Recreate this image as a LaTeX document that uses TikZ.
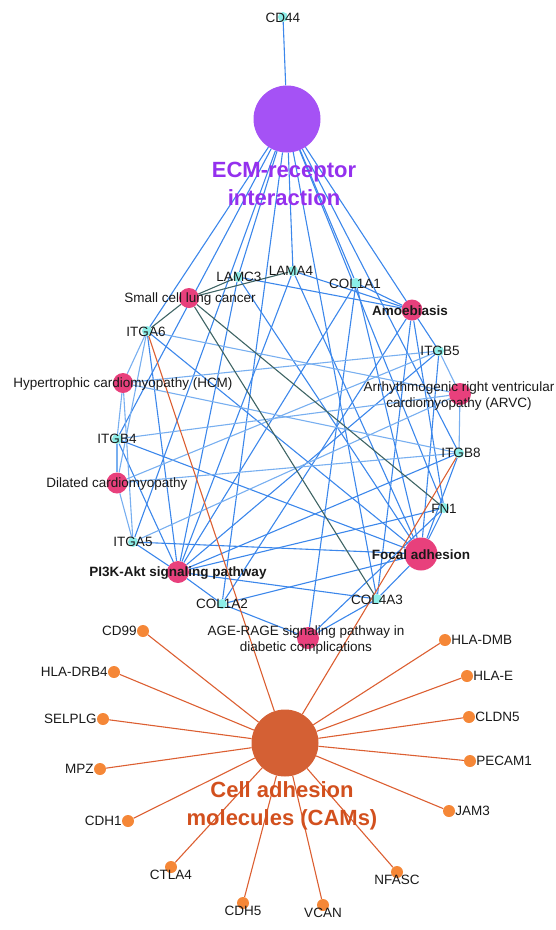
\documentclass[tikz,border=0pt]{standalone}
\usepackage{fontspec}
\setmainfont{Liberation Sans}
\pgfdeclarelayer{edges}
\pgfsetlayers{edges,main}
\definecolor{pathpink}{RGB}{232,64,124}
\definecolor{genecyan}{RGB}{140,238,232}
\definecolor{ecmhub}{RGB}{165,82,245}
\definecolor{ecmtext}{RGB}{148,48,238}
\definecolor{camhub}{RGB}{212,96,52}
\definecolor{camtext}{RGB}{210,80,30}
\definecolor{camgene}{RGB}{245,135,55}
\definecolor{camedge}{RGB}{220,95,50}
\definecolor{edgeblue}{RGB}{60,135,235}
\definecolor{edgelight}{RGB}{120,175,240}
\definecolor{edgedark}{RGB}{62,100,100}
\definecolor{labeltext}{RGB}{25,25,25}
\begin{document}
\begin{tikzpicture}[x=1pt,y=-1pt,
  gene/.style={circle,fill=genecyan,draw=none,minimum size=10pt,inner sep=0pt},
  pathnode/.style={circle,fill=pathpink,draw=none,minimum size=#1,inner sep=0pt},
  cgene/.style={circle,fill=camgene,draw=none,minimum size=12pt,inner sep=0pt},
  hubnode/.style={circle,fill=#1,draw=none,minimum size=67pt,inner sep=0pt},
  lbl/.style={font=\fontsize{13.5}{16}\selectfont,text=labeltext,inner sep=0pt,align=center},
  blbl/.style={font=\fontsize{13.5}{16}\selectfont\bfseries,text=labeltext,inner sep=0pt,align=center},
  hublbl/.style={font=\fontsize{22}{28}\selectfont\bfseries,text=#1,inner sep=0pt,align=center},
  eblue/.style={draw=edgeblue,line width=1.1pt},
  elight/.style={draw=edgelight,line width=1.1pt},
  edark/.style={draw=edgedark,line width=1.1pt},
  ecam/.style={draw=camedge,line width=1.1pt}]
\useasboundingbox (0,0) rectangle (556,930);

% hubs
\node[hubnode=ecmhub] (ecm) at (287,119) {};
\node[hubnode=camhub] (cam) at (285,743) {};

% ECM genes
\node[gene] (cd44) at (283,17) {};
\node[gene] (lamc3) at (238,277) {};
\node[gene] (lama4) at (293,271) {};
\node[gene] (col1a1) at (356,283) {};
\node[gene] (itga6) at (147,331) {};
\node[gene] (itgb4) at (117,439) {};
\node[gene] (itga5) at (133,542) {};
\node[gene] (col1a2) at (222,604) {};
\node[gene] (col4a3) at (377,599) {};
\node[gene] (fn1) at (444,508) {};
\node[gene] (itgb8) at (459,453) {};
\node[gene] (itgb5) at (439,351) {};

% pathway terms
\node[pathnode=21pt] (amoe) at (412,310) {};
\node[pathnode=20pt] (sclc) at (189,298) {};
\node[pathnode=20pt] (hcm) at (123,383) {};
\node[pathnode=21pt] (dcm) at (117,483) {};
\node[pathnode=22pt] (pi3k) at (178,572) {};
\node[pathnode=22pt] (age) at (308,638) {};
\node[pathnode=33pt] (fa) at (421,554) {};
\node[pathnode=22pt] (arvc) at (460,394) {};

% CAM genes
\node[cgene] (cd99) at (143,631) {};
\node[cgene] (hladrb4) at (114,672) {};
\node[cgene] (selplg) at (103,719) {};
\node[cgene] (mpz) at (100,769) {};
\node[cgene] (cdh1) at (128,821) {};
\node[cgene] (ctla4) at (171,867) {};
\node[cgene] (cdh5) at (243,903) {};
\node[cgene] (vcan) at (323,905) {};
\node[cgene] (nfasc) at (397,872) {};
\node[cgene] (jam3) at (449,811) {};
\node[cgene] (pecam1) at (470,761) {};
\node[cgene] (cldn5) at (469,717) {};
\node[cgene] (hlae) at (467,676) {};
\node[cgene] (hladmb) at (445,640) {};

% connectors
\begin{pgfonlayer}{edges}
\foreach \g in {cd44,lamc3,lama4,col1a1,itga6,itgb4,itga5,col1a2,col4a3,fn1,itgb8,itgb5}
  \draw[eblue] (ecm) -- (\g);
\foreach \p in {fa,pi3k}
  \foreach \g in {lamc3,lama4,col1a1,itga6,itgb4,itga5,col1a2,col4a3,fn1,itgb8,itgb5}
    \draw[eblue] (\p) -- (\g);
\foreach \g in {lamc3,lama4,col1a1,col1a2,col4a3,fn1}
  \draw[eblue] (amoe) -- (\g);
\foreach \g in {col1a1,col1a2,col4a3,fn1}
  \draw[eblue] (age) -- (\g);
\foreach \p in {hcm,dcm,arvc}
  \foreach \g in {itga6,itgb4,itga5,itgb5,itgb8}
    \draw[elight] (\p) -- (\g);
\foreach \g in {lamc3,lama4,itga6,fn1,col4a3}
  \draw[edark] (sclc) -- (\g);
\foreach \g in {itga6,itgb8,cd99,hladrb4,selplg,mpz,cdh1,ctla4,cdh5,vcan,nfasc,jam3,pecam1,cldn5,hlae,hladmb}
  \draw[ecam] (cam) -- (\g);
\end{pgfonlayer}

% labels
\node[hublbl=ecmtext] (ecmlbl) at (284,184) {ECM-receptor\\interaction};
\node[hublbl=camtext] (camlbl) at (282,806) {Cell adhesion\\molecules (CAMs)};

\node[lbl] (cd44t) at (283,18) {CD44};
\node[lbl] (lamc3t) at (239,277) {LAMC3};
\node[lbl] (lama4t) at (291,271) {LAMA4};
\node[lbl] (col1a1t) at (355,284) {COL1A1};
\node[lbl] (itga6t) at (146,332) {ITGA6};
\node[lbl] (itgb4t) at (117,439) {ITGB4};
\node[lbl] (itga5t) at (133,542) {ITGA5};
\node[lbl] (col1a2t) at (222,604) {COL1A2};
\node[lbl] (col4a3t) at (377,600) {COL4A3};
\node[lbl] (fn1t) at (444,509) {FN1};
\node[lbl] (itgb8t) at (461,453) {ITGB8};
\node[lbl] (itgb5t) at (440,351) {ITGB5};

\node[blbl] (amoet) at (410,311) {Amoebiasis};
\node[lbl] (sclct) at (190,299) {Small cell lung cancer};
\node[lbl] (hcmt) at (123,384) {Hypertrophic cardiomyopathy (HCM)};
\node[lbl] (dcmt) at (117,484) {Dilated cardiomyopathy};
\node[blbl] (pi3kt) at (178,573) {PI3K-Akt signaling pathway};
\node[lbl] (aget) at (306,640) {AGE-RAGE signaling pathway in\\diabetic complications};
\node[blbl] (fat) at (421,555) {Focal adhesion};
\node[lbl] (arvct) at (459,396) {Arrhythmogenic right ventricular\\cardiomyopathy (ARVC)};

\node[lbl,anchor=east] (cd99t) at (cd99.west) {CD99};
\node[lbl,anchor=east] (hladrb4t) at (hladrb4.west) {HLA-DRB4};
\node[lbl,anchor=east] (selplgt) at (selplg.west) {SELPLG};
\node[lbl,anchor=east] (mpzt) at (mpz.west) {MPZ};
\node[lbl,anchor=east] (cdh1t) at (cdh1.west) {CDH1};
\node[lbl,anchor=north] (ctla4t) at ([yshift=3pt]ctla4.south) {CTLA4};
\node[lbl,anchor=north] (cdh5t) at ([yshift=3pt]cdh5.south) {CDH5};
\node[lbl,anchor=north] (vcant) at ([yshift=3pt]vcan.south) {VCAN};
\node[lbl,anchor=north] (nfasct) at ([yshift=3pt]nfasc.south) {NFASC};
\node[lbl,anchor=west] (jam3t) at (jam3.east) {JAM3};
\node[lbl,anchor=west] (pecam1t) at (pecam1.east) {PECAM1};
\node[lbl,anchor=west] (cldn5t) at (cldn5.east) {CLDN5};
\node[lbl,anchor=west] (hlaet) at (hlae.east) {HLA-E};
\node[lbl,anchor=west] (hladmbt) at (hladmb.east) {HLA-DMB};
\end{tikzpicture}
\end{document}
